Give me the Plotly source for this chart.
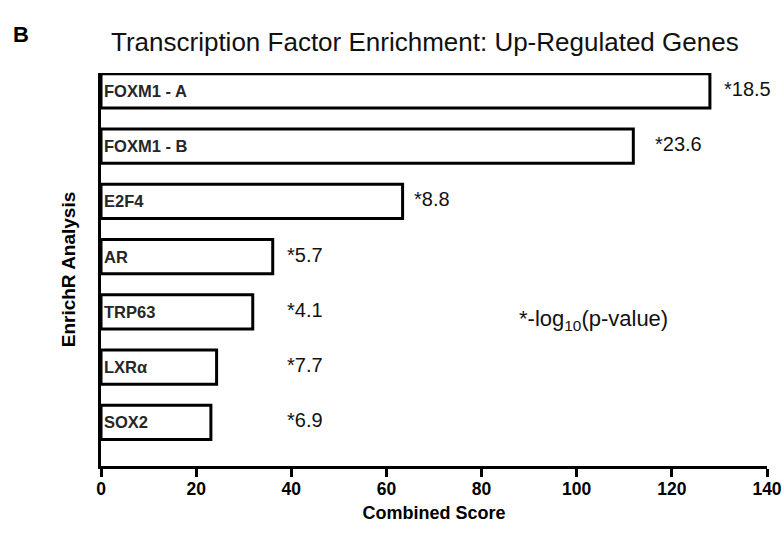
import plotly.graph_objects as go

categories = ["FOXM1 - A", "FOXM1 - B", "E2F4", "AR", "TRP63", "LXRα", "SOX2"]
combined_score = [128.0, 111.9, 63.4, 36.1, 31.9, 24.3, 23.1]
neg_log10_p = ["*18.5", "*23.6", "*8.8", "*5.7", "*4.1", "*7.7", "*6.9"]
x_ticks = [0, 20, 40, 60, 80, 100, 120, 140]

FONT = "Liberation Sans, Arial, sans-serif"

W, H = 782, 535
L, R, T, B = 101, 15, 73, 69
PW, PH = W - L - R, H - T - B

fig = go.Figure()
fig.add_trace(go.Bar(
    y=categories, x=combined_score, orientation="h",
    width=0.62,
    marker=dict(color="white", line=dict(color="black", width=3)),
    hoverinfo="skip", showlegend=False,
))

ann = []
# labels inside the bars
for c in categories:
    ann.append(dict(x=0, y=c, xref="x", yref="y", text="<b>%s</b>" % c,
                    showarrow=False, xanchor="left", yanchor="middle", xshift=1,
                    font=dict(family=FONT, size=16.5, color="#262626")))
# -log10(p) labels: after the bar, short bars share the AR column
min_anchor = combined_score[3]
for c, v, t in zip(categories, combined_score, neg_log10_p):
    xpos = max(v, min_anchor)
    shift = 12 if v > 120 else (20 if v > 100 else (9 if v > 50 else 12))
    ann.append(dict(x=xpos, y=c, xref="x", yref="y", text=t, showarrow=False,
                    xanchor="left", yanchor="middle", xshift=shift, yshift=2,
                    font=dict(family=FONT, size=20, color="#111")))

ann.append(dict(x=87.5, y=4.15, xref="x", yref="y", text="*-log<sub>10</sub>(p-value)",
                showarrow=False, xanchor="left", yanchor="middle",
                font=dict(family=FONT, size=22, color="#111")))
ann.append(dict(x=(11 - L) / PW, y=1 + (T - 35) / PH, xref="paper", yref="paper",
                text="<b>B</b>", showarrow=False, xanchor="left", yanchor="middle",
                font=dict(family=FONT, size=22, color="black")))

fig.update_layout(
    width=W, height=H,
    margin=dict(l=L, r=R, t=T, b=B, autoexpand=False),
    paper_bgcolor="white", plot_bgcolor="white",
    title=dict(text="Transcription Factor Enrichment: Up-Regulated Genes",
               x=111 / W, xanchor="left", y=1 - 42 / H, yanchor="middle",
               font=dict(family=FONT, size=26, color="#111")),
    annotations=ann,
)

fig.update_xaxes(range=[0, 140], tickvals=x_ticks, ticks="outside", ticklen=8,
                 tickwidth=3, tickcolor="black", showline=True, linewidth=3,
                 linecolor="black", showgrid=False, zeroline=False, automargin=False,
                 ticklabelstandoff=-3,
                 tickfont=dict(family=FONT, size=17.5, color="black", weight="bold"),
                 title=dict(text="<b>Combined Score</b>", standoff=9,
                            font=dict(family=FONT, size=18, color="black")))
fig.update_yaxes(range=[6.79, -0.322], showline=True, linewidth=3, linecolor="black",
                 showticklabels=False, ticks="", showgrid=False, zeroline=False,
                 automargin=False,
                 title=dict(text="<b>EnrichR Analysis</b>", standoff=18,
                            font=dict(family=FONT, size=19, color="black")))

fig.write_html("out.html", config={"displayModeBar": False},
               post_script="document.body.style.margin='0';"
                           "document.body.style.overflow='hidden';")
